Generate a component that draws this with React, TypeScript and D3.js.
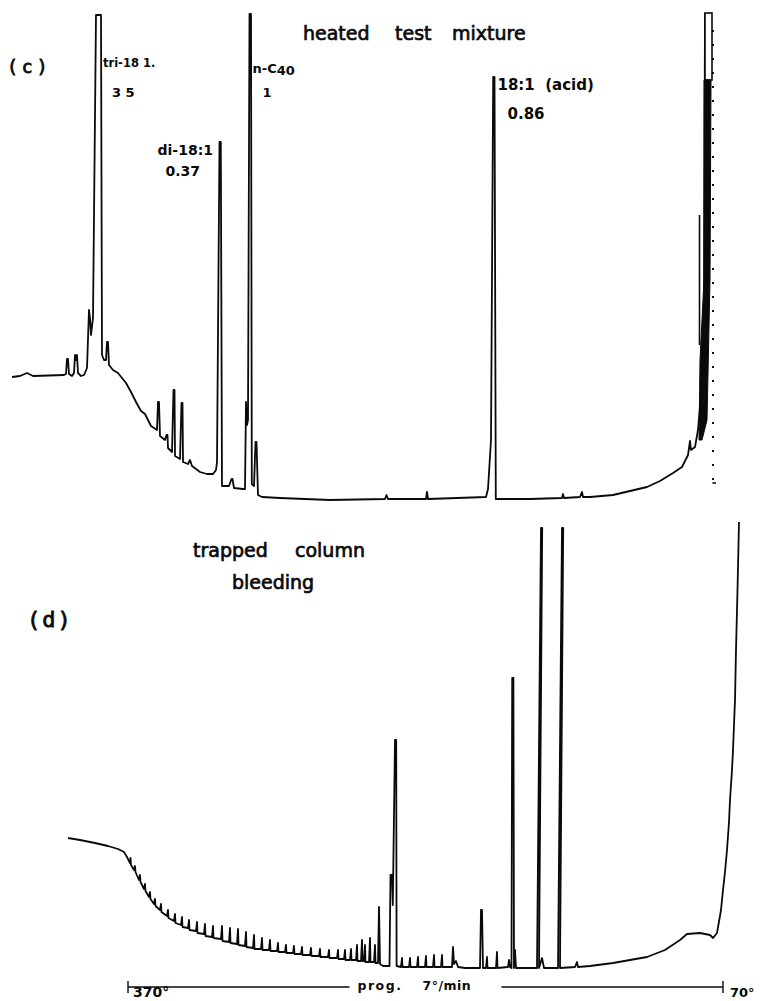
import * as d3 from 'd3';

// Chart-paper units: x = pen travel along the recorder paper,
// y = detector response above the baseline of each trace.
type Pt = [number, number];

// (c) heated test mixture
const traceC: Pt[] = [
  [1, 61.5], [5, 62], [8.5, 63.5], [11.5, 62], [27, 62.5], [28, 63], [28.5, 70.5], [29, 70.5], [29.5, 63],
  [31, 62], [32, 63.5], [32.5, 72.5], [33, 70], [33.5, 72.5], [34, 63.5], [35.5, 62], [37, 62.5], [38.5, 66],
  [39.5, 95], [40, 91], [40.5, 82.5], [41.5, 91], [43, 242.5], [45.5, 242.5], [46, 72.5], [47, 70], [48, 70],
  [48.5, 79], [49, 79], [49.5, 67.5], [51.5, 65], [54, 63.5], [56, 61], [58, 58.5], [60.5, 54], [63, 49],
  [65.5, 44.5], [67.5, 43], [69, 40], [70.5, 37], [72, 36], [73.5, 35], [74, 49], [74.5, 49], [75, 32],
  [77.5, 30], [78.25, 32.5], [78.75, 32.5], [79, 26], [81, 24], [81.75, 55], [82.25, 55], [82.5, 22],
  [85, 20.5], [85.75, 48.5], [86.25, 48.5], [86.5, 19], [89, 18], [90, 20], [91, 17], [95, 14], [98.5, 13],
  [101.5, 13], [103, 15], [103.5, 19], [104.75, 179], [105.4, 179], [106, 7], [109.5, 7], [110.75, 10.5],
  [111.25, 10.5], [112, 6], [116.5, 5.5], [117.5, 5.5], [118, 49], [118.5, 37.5], [119, 40], [119.75, 243],
  [120.5, 243], [120.9, 8], [122, 7], [122.75, 29], [123.25, 29], [124, 2.5], [126, 1.5], [135, 1], [160, 0],
  [187.5, 0.5], [188.25, 2.5], [189, 0.5], [208, 0.5], [208.5, 4], [209, 0.5], [238, 1.5], [239, 5.5],
  [240.5, 30], [241.6, 211.5], [242.25, 211.5], [242.9, 0.5], [260, 0.5], [276, 1], [276.5, 3], [277, 1],
  [285, 1.5], [286, 4], [286.5, 1.5], [290, 1.5], [301.5, 2.5], [310, 4.5], [318.5, 6.5], [325, 9.5],
  [331.5, 13.5], [336, 16.5], [339, 22.5], [340, 29.5], [340.5, 25], [342.5, 26.5], [344, 35], [346, 58.5],
  [347, 100], [347.5, 243.5],
];
const offscaleCapC = { x0: 347.5, x1: 351, y0: 210, y1: 243.5 };
const offscaleBlockC: Pt[] = [
  [347, 210], [350.5, 210], [350, 110], [348.5, 40], [346, 30], [344.5, 30], [345, 70], [347, 110],
];
const shoulderC: Pt[] = [[344.75, 77.5], [344.75, 142.5]];
const penMarkC: Pt[] = [[351.5, 235], [351.5, 8.5]];
const penStubC: Pt[] = [[351.25, 8.5], [353, 8.5]];

const peakNamesC = ['tri-18 1.', 'di-18:1', 'n-C', '18:1  (acid)'];
const peakRatiosC = ['3 5', '0.37', '1', '0.86'];
const peakAtC = [45.5, 104.5, 120.75, 242.75];

// (d) trapped column bleeding
const traceD: Pt[] = [
  [29, 65], [35, 64], [42.5, 62.5], [49, 61], [54, 59.5], [57, 58], [58.5, 55.5],
  [60, 52.5], [60.25, 55], [60.5, 51.5], [62, 49], [62.5, 51], [62.75, 48],
  [64.5, 44], [65, 46.5], [65.25, 43], [67, 39.5], [67.5, 42], [67.75, 38.5],
  [69.5, 35.5], [70, 38], [70.25, 34.5], [72, 32], [72.5, 34.5], [72.75, 31],
  [75, 29], [75.5, 32], [75.75, 28], [78.5, 26], [79, 29], [79.25, 25],
  [82, 23.5], [82.5, 27], [82.75, 22.5], [85.5, 21.5], [86, 25.5], [86.25, 20.5],
  [89, 20], [89.5, 24], [89.75, 19], [93, 18.5], [93.5, 23], [93.75, 17.5],
  [97, 17], [97.5, 22], [97.75, 16], [101, 15.5], [101.5, 21], [101.75, 15],
  [105.5, 14.5], [106, 21], [106.25, 13.5], [109.5, 13], [110, 20], [110.25, 12.5],
  [113.5, 12], [114, 19.5], [114.25, 11.5], [117.5, 11], [118, 18], [118.25, 10.5],
  [121.5, 10], [122, 16.5], [122.25, 9.5], [125.5, 9.5], [126, 15], [126.25, 9],
  [129.5, 9], [130, 14], [130.25, 8.5], [133.5, 8.5], [134, 12.5], [134.25, 8],
  [137.5, 8], [138, 11.5], [138.25, 7.5], [141.5, 7.5], [142, 11], [142.25, 7],
  [145.5, 7], [146, 10.5], [146.25, 6.5], [150, 6.5], [150.5, 10], [150.75, 6],
  [154.5, 6], [155, 9.5], [155.25, 5.5], [159, 5.5], [159.5, 9], [159.75, 5],
  [163.5, 5], [164, 9], [164.25, 4.5], [167, 4.5], [167.5, 9], [167.75, 4],
  [170, 4], [170.5, 9.5], [170.75, 4], [173, 4], [173.5, 11.5], [173.75, 3.5],
  [175.5, 3.5], [176, 14], [176.25, 3.5], [177, 3.5], [177.5, 11.5], [177.75, 3],
  [179.5, 3], [180, 15], [180.25, 3], [182, 3], [182.5, 11.5], [182.75, 2.5],
  [184, 2.5], [184.5, 30.5], [185, 2], [186.5, 1], [189.75, 1], [190.25, 46.5], [191, 46.5],
  [191.4, 31.5], [192.5, 114], [193.1, 114], [193.3, 1],
  [195.5, 0.5], [196, 5], [196.25, 0.5], [199.5, 0.5], [200, 5], [200.25, 0.5],
  [203.5, 0.5], [204, 5.5], [204.25, 0.5], [207.5, 0.5], [208, 6], [208.25, 0.5],
  [211.5, 0.5], [212, 6.5], [212.25, 0.5], [215.5, 0.5], [216, 6.5], [216.25, 0.5],
  [221, 0.5], [221.5, 10.5], [222, 2], [223, 3.5], [224, 0.5],
  [227.5, 0], [235, 0], [235.5, 29], [236, 29], [236.5, 0], [238, 0], [238.5, 5.5], [238.75, 0],
  [243, 0], [243.5, 8], [243.75, 0], [249, 0.5], [249.5, 4], [250, 0.5], [250.75, 0],
  [251.1, 145], [251.7, 145], [252, 0], [252.5, 9], [253, 0],
  [260, 0], [263.5, 0], [265.5, 220], [266.1, 220], [264.5, 0], [266, 5], [267, 0],
  [273, 0], [274, 0], [276, 220], [276.6, 220], [275, 0], [282.5, 0.5], [283.5, 3], [284, 0.5],
  [290, 1], [301.5, 2.5], [310, 4], [318.5, 5.5], [327.5, 9], [335, 14], [338.5, 17], [345, 17.5],
  [350, 16.5], [351.5, 15], [353.5, 17.5], [355.5, 29], [356.5, 39], [357.5, 48], [358.5, 59],
  [359.5, 73], [360, 84], [361, 99], [361.5, 109], [362.5, 134], [363, 159], [363.75, 189], [364.5, 223],
];

const programTemps = [370, 70];
const programRate = ['prog.', '7°/min'];

const W = 761;
const H = 1001;

const x = d3.scaleLinear().domain([0, 365]).range([10, 740]);
const yC = d3.scaleLinear().domain([0, 244]).range([500, 12]);
const yD = d3.scaleLinear().domain([0, 224]).range([968, 520]);
const temp = d3.scaleLinear().domain(programTemps).range([x(59), x(356.5)]);

const lineC = d3.line<Pt>().x(d => x(d[0])).y(d => yC(d[1]));
const lineD = d3.line<Pt>().x(d => x(d[0])).y(d => yD(d[1]));

const ink = '#0a0a0a';

export default function App() {
  const [tri, di, nc, acid] = peakAtC.map(v => x(v));
  const progMid = (temp(370) + temp(70)) / 2;

  const titleStyle = { fontFamily: '"DejaVu Sans", sans-serif', fontSize: 19, fill: ink, stroke: ink, strokeWidth: 0.7 };
  const labStyle = { fontFamily: '"DejaVu Sans", sans-serif', fontWeight: 700, fill: ink };

  return (
    <svg width={W} height={H} style={{ position: 'absolute', left: 0, top: 0, background: '#fff' }}>
      <rect width={W} height={H} fill="#fff" />

      {/* (c) heated test mixture */}
      <text x={7} y={73} fontFamily='"DejaVu Sans Mono", monospace' fontSize={18} letterSpacing={4}
        fill={ink} stroke={ink} strokeWidth={0.8}>(c)</text>
      <g style={titleStyle}>
        <text x={303} y={40}>heated</text>
        <text x={395} y={40}>test</text>
        <text x={452} y={40}>mixture</text>
      </g>

      <path d={lineC(traceC) ?? ''} fill="none" stroke={ink} strokeWidth={1.8} strokeLinejoin="round" />
      <rect x={x(offscaleCapC.x0)} y={yC(offscaleCapC.y1)} width={x(offscaleCapC.x1) - x(offscaleCapC.x0)}
        height={yC(offscaleCapC.y0) - yC(offscaleCapC.y1)} fill="#fff" stroke={ink} strokeWidth={1.6} />
      <path d={(lineC(offscaleBlockC) ?? '') + 'Z'} fill={ink} stroke={ink} strokeWidth={1} />
      <path d={lineC(shoulderC) ?? ''} stroke={ink} strokeWidth={1.6} />
      <path d={lineC(penMarkC) ?? ''} stroke={ink} strokeWidth={2} strokeDasharray="2 12" />
      <path d={lineC(penStubC) ?? ''} stroke={ink} strokeWidth={1.6} />

      <g style={labStyle}>
        <text x={tri + 2} y={67} fontSize={11.5}>{peakNamesC[0]}</text>
        <text x={tri + 11} y={97} fontSize={13}>{peakRatiosC[0]}</text>
        <text x={di - 6} y={155} fontSize={14} textAnchor="end">{peakNamesC[1]}</text>
        <text x={di - 19} y={176} fontSize={14} textAnchor="end">{peakRatiosC[1]}</text>
        <text x={nc + 1} y={73} fontSize={13}>{peakNamesC[2]}<tspan dy={2}>40</tspan></text>
        <text x={nc + 11} y={97} fontSize={13}>{peakRatiosC[2]}</text>
        <text x={acid + 2} y={90} fontSize={15} style={{ whiteSpace: 'pre' }}>{peakNamesC[3]}</text>
        <text x={acid + 12} y={119} fontSize={15}>{peakRatiosC[3]}</text>
      </g>

      {/* (d) trapped column bleeding */}
      <g style={titleStyle}>
        <text x={193} y={557}>trapped</text>
        <text x={295} y={557}>column</text>
        <text x={232} y={589}>bleeding</text>
      </g>
      <text x={27} y={627} fontFamily='"DejaVu Sans Mono", monospace' fontSize={22} letterSpacing={2}
        fill={ink} stroke={ink} strokeWidth={0.8}>(d)</text>

      <path d={lineD(traceD) ?? ''} fill="none" stroke={ink} strokeWidth={1.8} strokeLinejoin="round" />

      {/* temperature programme bar */}
      <g stroke={ink} strokeWidth={1.4}>
        <line x1={temp(370)} x2={progMid - 76} y1={987} y2={987} />
        <line x1={progMid + 76} x2={temp(70)} y1={987} y2={987} />
        {programTemps.map(t => (
          <line key={t} x1={temp(t)} x2={temp(t)} y1={981} y2={993} />
        ))}
      </g>
      <g style={labStyle}>
        <text x={temp(370) + 5} y={997} fontSize={14}>{programTemps[0]}°</text>
        <text x={temp(70) + 7} y={997} fontSize={13}>{programTemps[1]}°</text>
        <text x={progMid - 68} y={990} fontSize={12.5} letterSpacing={1.5}>{programRate[0]}</text>
        <text x={progMid - 3} y={990} fontSize={12.5} letterSpacing={0.5}>{programRate[1]}</text>
      </g>
    </svg>
  );
}
